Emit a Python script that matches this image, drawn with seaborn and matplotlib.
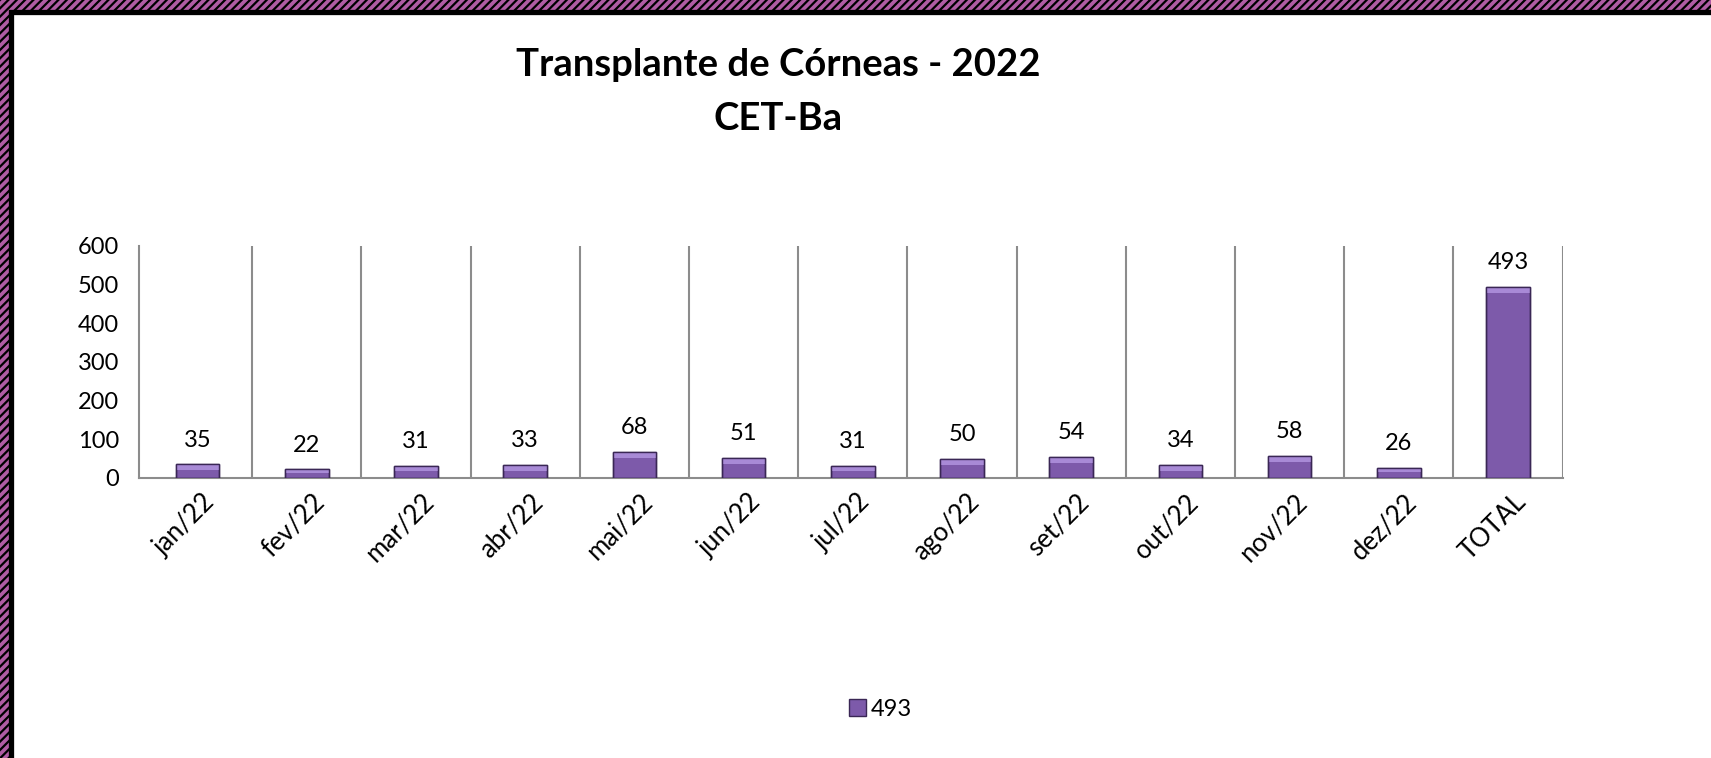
import numpy as np
import pandas as pd
import matplotlib.pyplot as plt
import matplotlib.transforms as mtransforms
import seaborn as sns
from matplotlib.patches import Rectangle

# dados do gráfico
meses = ['jan/22', 'fev/22', 'mar/22', 'abr/22', 'mai/22', 'jun/22', 'jul/22',
         'ago/22', 'set/22', 'out/22', 'nov/22', 'dez/22', 'TOTAL']
valores = [35, 22, 31, 33, 68, 51, 31, 50, 54, 34, 58, 26, 493]
serie = '493'

df = pd.DataFrame({'mes': meses, 'valor': valores, 'serie': serie})

sns.set_style('white')
plt.rcParams['font.family'] = ['Lato', 'DejaVu Sans']
plt.rcParams['text.color'] = 'black'
plt.rcParams['xtick.color'] = 'black'
plt.rcParams['ytick.color'] = 'black'
plt.rcParams['hatch.linewidth'] = 1.6
plt.rcParams['hatch.color'] = 'black'

fig = plt.figure(figsize=(17.11, 7.58), dpi=100)

# moldura listrada (esquerda e topo)
fig.patches.append(Rectangle((0, 0), 1, 1, transform=fig.transFigure,
                             facecolor='#B05CA4', edgecolor='black', hatch='////',
                             linewidth=0, zorder=-3))
fig.patches.append(Rectangle((10.5 / 1711, -0.1), 1.2, 1 - 11.5 / 758 + 0.1,
                             transform=fig.transFigure, facecolor='white',
                             edgecolor='black', linewidth=3.8, zorder=-2))

ax = fig.add_axes([138.6 / 1711, 1 - 478 / 758, (1562.6 - 138.6) / 1711, (478 - 245.5) / 758])
ax.set_facecolor('none')

sns.barplot(data=df, x='mes', y='valor', hue='serie', palette=['#7D5AAA'],
            saturation=1, width=0.4, ax=ax, edgecolor='#3A2755', linewidth=1.0, zorder=3)

# efeito de bisel no topo das barras
px = 600 / (478 - 245.5)
for p in list(ax.patches):
    x, w, h = p.get_x(), p.get_width(), p.get_height()
    bev = min(6 * px, h * 0.45)
    ax.add_patch(Rectangle((x, h - bev), w, bev, facecolor='#A88AD6',
                           edgecolor='none', zorder=4))
    ax.add_patch(Rectangle((x, 0), w, h, facecolor='none',
                           edgecolor='#3A2755', linewidth=1.0, zorder=5))

ax.bar_label(ax.containers[0], fontsize=17, padding=10, color='black')

ax.set_ylim(0, 600)
ax.set_yticks(np.arange(0, 601, 100))
ax.set_xlim(-0.54, len(meses) - 0.5)
ax.set_xticks(np.arange(0.5, len(meses)), minor=True)
ax.tick_params(axis='x', which='major', length=0, pad=8)
ax.tick_params(axis='x', which='minor', length=8, width=1.5, color='#8C8C8C', direction='out')
ax.tick_params(axis='y', length=8, width=1.5, color='#8C8C8C', direction='out',
               labelsize=17, pad=6)
ax.grid(axis='x', which='minor', color='#8C8C8C', linewidth=1.5, zorder=0)
ax.grid(axis='y', visible=False)
shift = mtransforms.ScaledTranslation(5 / 100, 0, fig.dpi_scale_trans)
for lab in ax.get_xticklabels():
    lab.set_rotation(45)
    lab.set_ha('right')
    lab.set_rotation_mode('anchor')
    lab.set_fontsize(18.5)
    lab.set_transform(lab.get_transform() + shift)

for s in ['top', 'right']:
    ax.spines[s].set_visible(False)
for s in ['left', 'bottom']:
    ax.spines[s].set_color('#8C8C8C')
    ax.spines[s].set_linewidth(1.5)
ax.set_xlabel('')
ax.set_ylabel('')

fig.text(0.4547, 1 - 65 / 758, 'Transplante de Córneas - 2022', ha='center', va='center',
         fontsize=27.5, fontweight='bold', color='black')
fig.text(0.4547, 1 - 119 / 758, 'CET-Ba', ha='center', va='center',
         fontsize=27.5, fontweight='bold', color='black')

ax.legend(loc='center', bbox_to_anchor=(0.5147, 1 - 709 / 758), bbox_transform=fig.transFigure,
          frameon=False, fontsize=17, handlelength=0.7, handleheight=0.7,
          handletextpad=0.2)

fig.savefig('out.png', dpi=100)
